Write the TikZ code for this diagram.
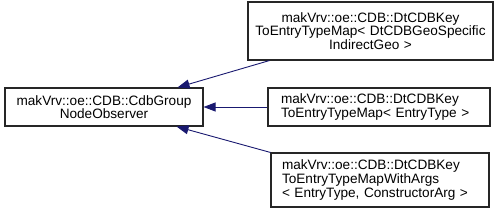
\documentclass[tikz,border=0pt]{standalone}
\usepackage{xcolor}
\usepackage{fontspec}
\setmainfont{Liberation Sans}
\usepackage{tikz}
\usetikzlibrary{arrows.meta}
\definecolor{edgeblue}{HTML}{191970}

\begin{document}
\begin{tikzpicture}[x=1pt,y=-1pt,
  font=\fontsize{13.6}{13.6}\selectfont,
  classbox/.style={draw=black!85,line width=1.1pt,fill=white,inner ysep=0pt,anchor=center},
  inherit/.style={draw=edgeblue,line width=0.9pt,-{Triangle[length=12pt,width=9pt]}}]
  \useasboundingbox (0,0) rectangle (501,213);
  \node[classbox,minimum width=198,minimum height=38,inner xsep=3pt,text width=192,align=center]
    (base) at (104,107) {makVrv::oe::CDB::CdbGroup\\NodeObserver};
  \node[classbox,minimum width=245,minimum height=58,inner xsep=2pt,text width=241,align=center]
    (geo) at (370.5,31) {makVrv::oe::CDB::DtCDBKey\\ToEntryTypeMap< DtCDBGeoSpecific\\IndirectGeo >};
  \node[classbox,minimum width=222,minimum height=38,inner xsep=13pt,text width=196,align=left]
    (entry) at (379,107) {makVrv::oe::CDB::DtCDBKey\\ToEntryTypeMap< EntryType >};
  \node[classbox,minimum width=218,minimum height=54,inner xsep=11pt,text width=196,align=left]
    (args) at (380,180) {makVrv::oe::CDB::DtCDBKey\\ToEntryTypeMapWithArgs\\< EntryType, ConstructorArg >};
  % derived -> base
  \draw[inherit] ([xshift=22pt]geo.south west) -- ([xshift=-26pt]base.north east);
  \draw[inherit] (entry.west) -- (base.east);
  \draw[inherit] (args.north west) -- ([xshift=-27pt]base.south east);
\end{tikzpicture}
\end{document}
